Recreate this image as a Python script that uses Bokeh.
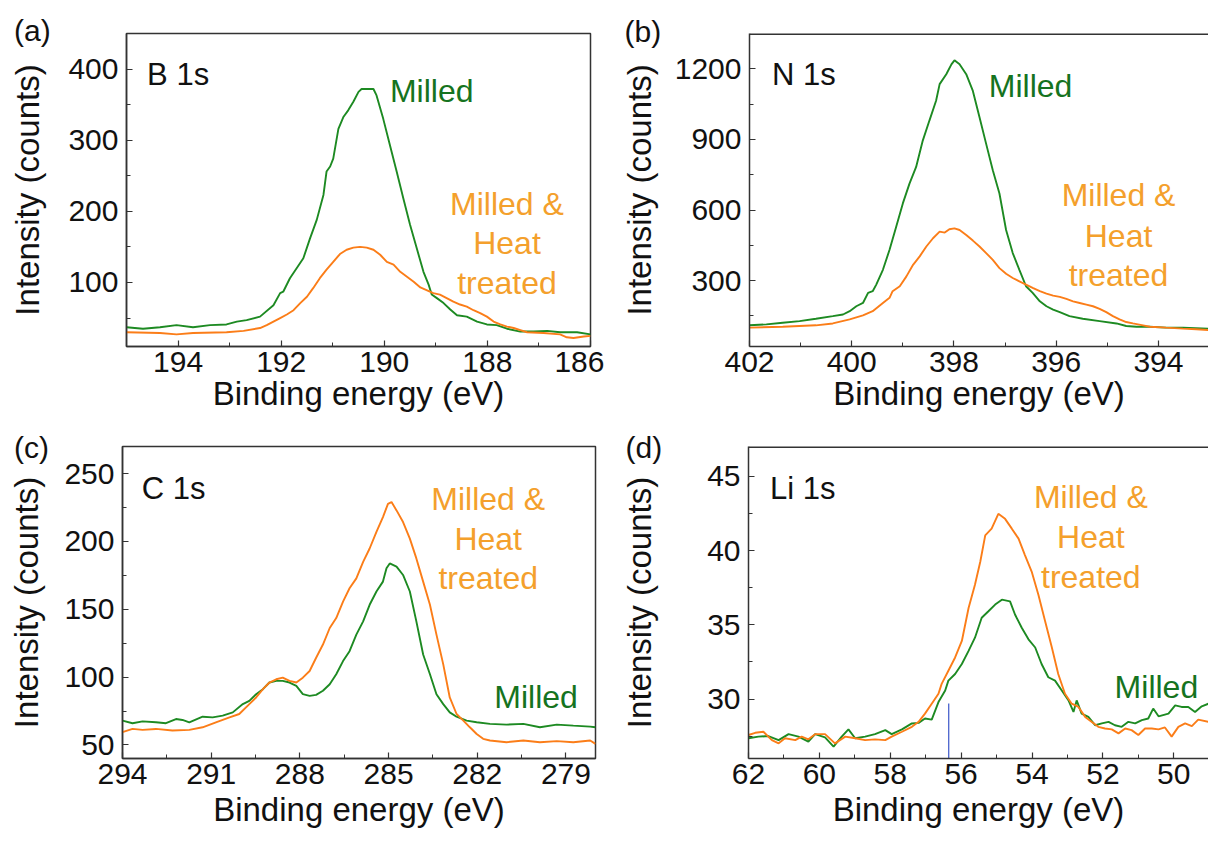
from bokeh.plotting import figure
from bokeh.models import Range1d, Label, FixedTicker, Span
from bokeh.layouts import column, row
from bokeh.embed import file_html
from bokeh.resources import INLINE

# ---------------- data (binding energy in eV, intensity in counts) ----------------
# (a) B 1s
b1s_x_milled = [195.00, 194.68, 194.35, 194.03, 193.71, 193.38, 193.06, 192.86, 192.67, 192.41,
                192.15, 192.02, 191.96, 191.83, 191.70, 191.57, 191.44, 191.31, 191.18, 191.12,
                191.05, 190.99, 190.89, 190.79, 190.70, 190.60, 190.50, 190.44, 190.21, 190.15,
                190.02, 189.89, 189.76, 189.63, 189.50, 189.37, 189.24, 189.14, 189.08, 188.98,
                188.85, 188.72, 188.59, 188.40, 188.20, 188.01, 187.82, 187.62, 187.36, 187.10,
                186.84, 186.59, 186.26, 186.00]
b1s_y_milled = [37, 35, 37, 40, 37, 40, 41, 45, 47, 52,
                68, 85, 87, 106, 120, 134, 162, 188, 223, 256,
                263, 274, 316, 333, 342, 354, 368, 372, 372, 363,
                330, 293, 256, 218, 181, 148, 115, 97, 83, 78,
                71, 62, 54, 52, 45, 41, 40, 35, 31, 31,
                32, 30, 30, 27]
b1s_x_heat = [195.00, 194.35, 194.03, 193.71, 193.06, 192.73, 192.41, 192.28, 192.15, 192.02,
              191.89, 191.76, 191.63, 191.50, 191.38, 191.25, 191.12, 190.99, 190.86, 190.73,
              190.60, 190.47, 190.34, 190.21, 190.08, 189.95, 189.82, 189.69, 189.56, 189.43,
              189.30, 189.17, 189.05, 188.92, 188.79, 188.66, 188.53, 188.40, 188.27, 188.14,
              188.01, 187.88, 187.75, 187.62, 187.49, 187.36, 187.23, 186.91, 186.59, 186.46,
              186.33, 186.13, 186.00]
b1s_y_heat = [30, 29, 27, 29, 30, 32, 36, 40, 45, 50,
              55, 61, 71, 80, 92, 106, 118, 129, 140, 146,
              149, 150, 149, 146, 139, 129, 125, 115, 108, 101,
              93, 89, 85, 83, 78, 73, 69, 66, 61, 57,
              52, 45, 41, 38, 36, 33, 30, 29, 27, 23,
              22, 24, 25]

# (b) N 1s
n1s_x_milled = [402.00, 401.67, 401.35, 401.02, 400.70, 400.37, 400.17, 400.04, 399.91, 399.78,
                399.68, 399.59, 399.52, 399.39, 399.26, 399.13, 399.00, 398.87, 398.74, 398.61,
                398.48, 398.35, 398.28, 398.15, 398.05, 397.99, 397.89, 397.76, 397.63, 397.50,
                397.37, 397.24, 397.11, 396.98, 396.85, 396.72, 396.59, 396.46, 396.32, 396.19,
                396.06, 395.93, 395.74, 395.48, 395.15, 394.82, 394.63, 394.43, 394.17, 393.85,
                393.52, 393.02]
n1s_y_milled = [110, 114, 121, 128, 138, 149, 156, 170, 191, 205,
                248, 255, 283, 346, 431, 529, 628, 712, 783, 895,
                980, 1064, 1135, 1177, 1219, 1236, 1219, 1177, 1106, 994,
                881, 769, 670, 515, 417, 346, 276, 248, 212, 191,
                177, 166, 149, 138, 128, 118, 107, 104, 104, 100,
                100, 96]
n1s_x_heat = [402.00, 401.35, 400.70, 400.37, 400.04, 399.78, 399.59, 399.39, 399.26, 399.20,
              399.06, 398.93, 398.80, 398.67, 398.54, 398.41, 398.28, 398.18, 398.09, 397.99,
              397.89, 397.76, 397.63, 397.50, 397.37, 397.24, 397.11, 396.98, 396.85, 396.72,
              396.59, 396.46, 396.32, 396.19, 396.06, 395.93, 395.80, 395.67, 395.54, 395.41,
              395.28, 395.15, 395.02, 394.89, 394.76, 394.63, 394.50, 394.30, 394.17, 393.85,
              393.52, 393.26, 393.02]
n1s_y_heat = [100, 104, 110, 118, 135, 152, 170, 205, 227, 255,
              276, 318, 367, 403, 445, 480, 508, 504, 518, 522,
              515, 494, 470, 445, 417, 388, 353, 329, 311, 297,
              283, 269, 255, 245, 236, 231, 222, 212, 205, 198,
              191, 180, 166, 149, 135, 124, 118, 110, 104, 100,
              96, 93, 90]

# (c) C 1s
c1s_x_milled = [294.00, 293.66, 293.32, 292.87, 292.53, 292.19, 291.97, 291.74, 291.29, 290.95,
                290.61, 290.27, 289.93, 289.71, 289.48, 289.25, 289.03, 288.80, 288.58, 288.35,
                288.12, 287.90, 287.67, 287.45, 287.22, 286.99, 286.77, 286.54, 286.32, 286.09,
                285.86, 285.64, 285.41, 285.19, 285.07, 284.96, 284.73, 284.51, 284.28, 284.06,
                283.83, 283.60, 283.38, 283.15, 282.93, 282.70, 282.36, 282.02, 281.57, 281.01,
                280.44, 279.88, 279.31, 278.75, 278.18, 278.00]
c1s_y_milled = [67.9, 66, 67.4, 66.7, 66, 69.1, 68.4, 66.7, 70.8, 70.3,
                71.6, 74, 80.1, 82.5, 87.4, 91.1, 96, 97.2, 97.2, 96,
                93.5, 87.4, 86.2, 86.9, 89.9, 94.7, 102.1, 111.8, 119.1, 131.3,
                141.1, 153.3, 163.1, 170.4, 180.2, 183.8, 181.4, 175.3, 163.1, 141.1,
                116.7, 102.1, 87.4, 80.1, 74, 70.8, 67.9, 66.7, 65.5, 65,
                65.5, 63, 65, 64.2, 63.5, 63]
c1s_x_heat = [294.00, 293.66, 293.32, 292.87, 292.31, 291.74, 291.29, 290.84, 290.38, 290.05,
              289.71, 289.48, 289.25, 289.03, 288.80, 288.58, 288.35, 288.12, 287.90, 287.67,
              287.45, 287.22, 286.99, 286.77, 286.54, 286.32, 286.09, 285.86, 285.64, 285.41,
              285.19, 285.02, 284.90, 284.73, 284.51, 284.28, 284.06, 283.83, 283.60, 283.38,
              283.15, 282.93, 282.70, 282.47, 282.25, 282.02, 281.80, 281.57, 281.01, 280.44,
              279.88, 279.31, 278.75, 278.18, 278.00]
c1s_y_heat = [59.4, 61.8, 61.1, 61.8, 60.6, 61.1, 63, 66.7, 70.3, 72.8,
              80.1, 85, 91.1, 96, 98.4, 99.6, 97.2, 96, 99.6, 104.5,
              114.3, 124, 136.2, 143.5, 155.7, 165.5, 172.8, 185, 194.8, 207,
              218, 227.7, 229, 222.9, 214.3, 202.1, 187.5, 170.4, 153.3, 131.3,
              109.4, 85, 72.8, 67.9, 63, 58.1, 54.5, 53.3, 52, 53.3,
              52, 52.8, 52, 53.3, 50.8]

# (d) Li 1s
li1s_x_milled = [62.00, 61.72, 61.44, 61.15, 60.87, 60.59, 60.31, 60.12, 59.84, 59.60,
                 59.37, 59.18, 58.99, 58.71, 58.43, 58.14, 57.96, 57.67, 57.39, 57.20,
                 57.02, 56.83, 56.64, 56.45, 56.36, 56.17, 55.98, 55.79, 55.61, 55.42,
                 55.23, 55.04, 54.85, 54.62, 54.48, 54.29, 54.10, 53.91, 53.73, 53.54,
                 53.35, 53.16, 52.97, 52.83, 52.74, 52.60, 52.41, 52.22, 52.03, 51.84,
                 51.66, 51.47, 51.28, 51.09, 50.90, 50.72, 50.58, 50.43, 50.15, 49.96,
                 49.78, 49.59, 49.40, 49.21, 49.02]
li1s_y_milled = [27.36, 27.47, 27.51, 27.24, 27.64, 27.47, 27.13, 27.64, 27.42, 26.8,
                 27.47, 27.96, 27.36, 27.47, 27.64, 27.91, 27.64, 27.96, 28.36, 28.4,
                 28.69, 28.62, 29.8, 30.58, 31.24, 31.69, 32.36, 33.24, 34.13, 35.47,
                 35.91, 36.36, 36.69, 36.58, 35.69, 34.8, 34.02, 33.47, 32.36, 31.47,
                 31.24, 30.58, 29.91, 29.13, 29.91, 29.02, 28.8, 28.24, 28.36, 28.47,
                 28.24, 28.13, 28.47, 28.36, 28.58, 28.69, 29.36, 28.84, 29.02, 29.58,
                 29.47, 29.47, 29.13, 29.51, 29.69]
li1s_x_heat = [62.00, 61.81, 61.58, 61.34, 61.15, 60.97, 60.68, 60.50, 60.31, 60.12,
               59.84, 59.56, 59.27, 58.99, 58.71, 58.43, 58.14, 57.96, 57.67, 57.39,
               57.20, 57.02, 56.83, 56.64, 56.55, 56.36, 56.17, 55.98, 55.79, 55.61,
               55.46, 55.32, 55.14, 54.95, 54.76, 54.57, 54.38, 54.20, 54.01, 53.82,
               53.63, 53.44, 53.26, 53.07, 52.88, 52.69, 52.50, 52.32, 52.13, 51.94,
               51.75, 51.56, 51.37, 51.19, 51.00, 50.81, 50.62, 50.43, 50.25, 50.06,
               49.87, 49.68, 49.49, 49.31, 49.02]
li1s_y_heat = [27.58, 27.73, 27.8, 27.24, 27.02, 27.36, 27.24, 27.47, 27.29, 27.64,
               27.64, 27.02, 27.47, 27.36, 27.24, 27.29, 27.24, 27.47, 27.8, 28.13,
               28.47, 29.02, 29.69, 30.36, 31.02, 31.91, 32.8, 33.91, 36.13, 37.69,
               39.24, 41.02, 41.47, 42.47, 42.13, 41.47, 40.8, 39.69, 38.58, 37.02,
               35.24, 33.47, 31.69, 30.36, 29.69, 29.47, 28.8, 28.47, 28.13, 28.02,
               27.96, 27.69, 28.02, 27.91, 27.58, 28.02, 28.02, 27.96, 28.09, 27.47,
               28.13, 28.36, 28.18, 28.62, 28.47]
li1s_marker_x = [56.35]
li1s_marker_y0 = [26.0]
li1s_marker_y1 = [29.7]

# tick values
b1s_xticks, b1s_xminor = [194, 192, 190, 188, 186], [195, 193, 191, 189, 187]
b1s_yticks, b1s_yminor = [100, 200, 300, 400], [50, 150, 250, 350]
n1s_xticks, n1s_xminor = [402, 400, 398, 396, 394], [401, 399, 397, 395, 393]
n1s_yticks, n1s_yminor = [300, 600, 900, 1200], [150, 450, 750, 1050]
c1s_xticks, c1s_xminor = [294, 291, 288, 285, 282, 279], [292.5, 289.5, 286.5, 283.5, 280.5]
c1s_yticks, c1s_yminor = [50, 100, 150, 200, 250], [75, 125, 175, 225]
li1s_xticks, li1s_xminor = [62, 60, 58, 56, 54, 52, 50], [61, 59, 57, 55, 53, 51, 49]
li1s_yticks, li1s_yminor = [30, 35, 40, 45], [27.5, 32.5, 37.5, 42.5]

# ---------------- styling ----------------
FONT = "Liberation Sans"
AX = "#333333"
TXT = "#111111"
GREEN_LINE = "#1d8a22"
GREEN_TEXT = "#157320"
ORANGE_LINE = "#fb7d18"
ORANGE_TEXT = "#f4a02c"


def make_panel(xr, yr, w, h, bl, br, bt, bb, xt, xm, yt, ym, ylab_standoff, xlab_standoff,
               tag, tag_offset, tag_standoff, right_open=False):
    p = figure(width=w, height=h, x_range=Range1d(*xr), y_range=Range1d(*yr),
               output_backend="svg", toolbar_location=None,
               min_border_left=bl, min_border_right=br, min_border_top=bt, min_border_bottom=bb,
               background_fill_color="white", border_fill_color="white")
    p.xgrid.visible = False
    p.ygrid.visible = False
    if right_open:
        p.outline_line_color = None
        p.add_layout(Span(location=yr[1], dimension="width", line_color=AX, line_width=3))
    else:
        p.outline_line_color = AX
        p.outline_line_width = 1.5
        p.outline_line_alpha = 1.0
    xax = p.below[0]
    yax = p.left[0]
    for ax, t, m in ((xax, xt, xm), (yax, yt, ym)):
        ax.ticker = FixedTicker(ticks=t, minor_ticks=m)
        ax.axis_line_color = AX
        ax.axis_line_width = 1.5
        ax.major_tick_line_color = AX
        ax.major_tick_line_width = 1.2
        ax.minor_tick_line_color = AX
        ax.minor_tick_line_width = 1.0
        ax.major_tick_in = 6
        ax.major_tick_out = 0
        ax.minor_tick_in = 4
        ax.minor_tick_out = 0
        ax.major_label_text_font = FONT
        ax.major_label_text_font_size = "30px"
        ax.major_label_text_color = TXT
        ax.axis_label_text_font = FONT
        ax.axis_label_text_font_size = "33px"
        ax.axis_label_text_font_style = "normal"
        ax.axis_label_text_color = TXT
    xax.axis_label = "Binding energy (eV)"
    xax.major_label_standoff = 5
    xax.axis_label_standoff = xlab_standoff
    yax.axis_label = "Intensity (counts)"
    yax.major_label_standoff = 8
    yax.axis_label_standoff = ylab_standoff
    # panel tag "(a)" etc. as the plot title, pulled left and down
    p.title.text = tag
    p.title.align = "left"
    p.title.vertical_align = "bottom"
    p.title.offset = tag_offset
    p.title.standoff = tag_standoff
    p.title.text_font = FONT
    p.title.text_font_size = "30px"
    p.title.text_font_style = "normal"
    p.title.text_color = TXT
    return p


def add_text(p, x, y, text, color, size="32px", align="center"):
    p.add_layout(Label(x=x, y=y, text=text, text_font=FONT, text_font_size=size,
                       text_color=color, text_align=align, text_baseline="alphabetic"))


# (a)
pa = make_panel((195, 186), (10, 450), 604, 421, 126, 14, 33, 75,
                b1s_xticks, b1s_xminor, b1s_yticks, b1s_yminor, 19, 0,
                "(a)", -112.5, -27)
pa.line(b1s_x_milled, b1s_y_milled, line_color=GREEN_LINE, line_width=1.9)
pa.line(b1s_x_heat, b1s_y_heat, line_color=ORANGE_LINE, line_width=1.9)
add_text(pa, 194.6, 392, "B 1s", TXT, "31px", "left")
add_text(pa, 189.08, 369, "Milled", GREEN_TEXT)
add_text(pa, 187.62, 211, "Milled &", ORANGE_TEXT)
add_text(pa, 187.62, 155, "Heat", ORANGE_TEXT)
add_text(pa, 187.62, 99, "treated", ORANGE_TEXT)

# (b)
pb = make_panel((402, 393.02), (20, 1350), 604, 421, 145, 0, 32, 75,
                n1s_xticks, n1s_xminor, n1s_yticks, n1s_yminor, 14, 0,
                "(b)", -125, -29, right_open=True)
pb.line(n1s_x_milled, n1s_y_milled, line_color=GREEN_LINE, line_width=1.9)
pb.line(n1s_x_heat, n1s_y_heat, line_color=ORANGE_LINE, line_width=1.9)
add_text(pb, 401.56, 1177, "N 1s", TXT, "31px", "left")
add_text(pb, 396.5, 1128, "Milled", GREEN_TEXT)
add_text(pb, 394.78, 663, "Milled &", ORANGE_TEXT)
add_text(pb, 394.78, 490, "Heat", ORANGE_TEXT)
add_text(pb, 394.78, 325, "treated", ORANGE_TEXT)

# (c)
pc = make_panel((294, 278), (40, 270), 604, 421, 122, 9, 23, 84,
                c1s_xticks, c1s_xminor, c1s_yticks, c1s_yminor, 16, 4,
                "(c)", -108.5, -34)
pc.line(c1s_x_milled, c1s_y_milled, line_color=GREEN_LINE, line_width=1.9)
pc.line(c1s_x_heat, c1s_y_heat, line_color=ORANGE_LINE, line_width=1.9)
add_text(pc, 293.35, 238.7, "C 1s", TXT, "31px", "left")
add_text(pc, 281.63, 231.4, "Milled &", ORANGE_TEXT)
add_text(pc, 281.63, 201.6, "Heat", ORANGE_TEXT)
add_text(pc, 281.63, 172.8, "treated", ORANGE_TEXT)
add_text(pc, 280.01, 85, "Milled", GREEN_TEXT)

# (d)
pd_ = make_panel((62, 49.02), (26, 47), 604, 421, 144, 0, 25, 82,
                 li1s_xticks, li1s_xminor, li1s_yticks, li1s_yminor, 46, 4,
                 "(d)", -123, -34, right_open=True)
pd_.line(li1s_x_milled, li1s_y_milled, line_color=GREEN_LINE, line_width=1.9)
pd_.line(li1s_x_heat, li1s_y_heat, line_color=ORANGE_LINE, line_width=1.9)
pd_.segment(x0=li1s_marker_x, y0=li1s_marker_y0, x1=li1s_marker_x, y1=li1s_marker_y1,
            line_color="#3a55c8", line_width=1.2)
add_text(pd_, 61.39, 44.18, "Li 1s", TXT, "31px", "left")
add_text(pd_, 52.34, 43.58, "Milled &", ORANGE_TEXT)
add_text(pd_, 52.34, 40.91, "Heat", ORANGE_TEXT)
add_text(pd_, 52.34, 38.24, "treated", ORANGE_TEXT)
add_text(pd_, 50.49, 30.8, "Milled", GREEN_TEXT)

layout = column(row(pa, pb), row(pc, pd_))
open("out.html", "w").write(file_html(layout, INLINE))
